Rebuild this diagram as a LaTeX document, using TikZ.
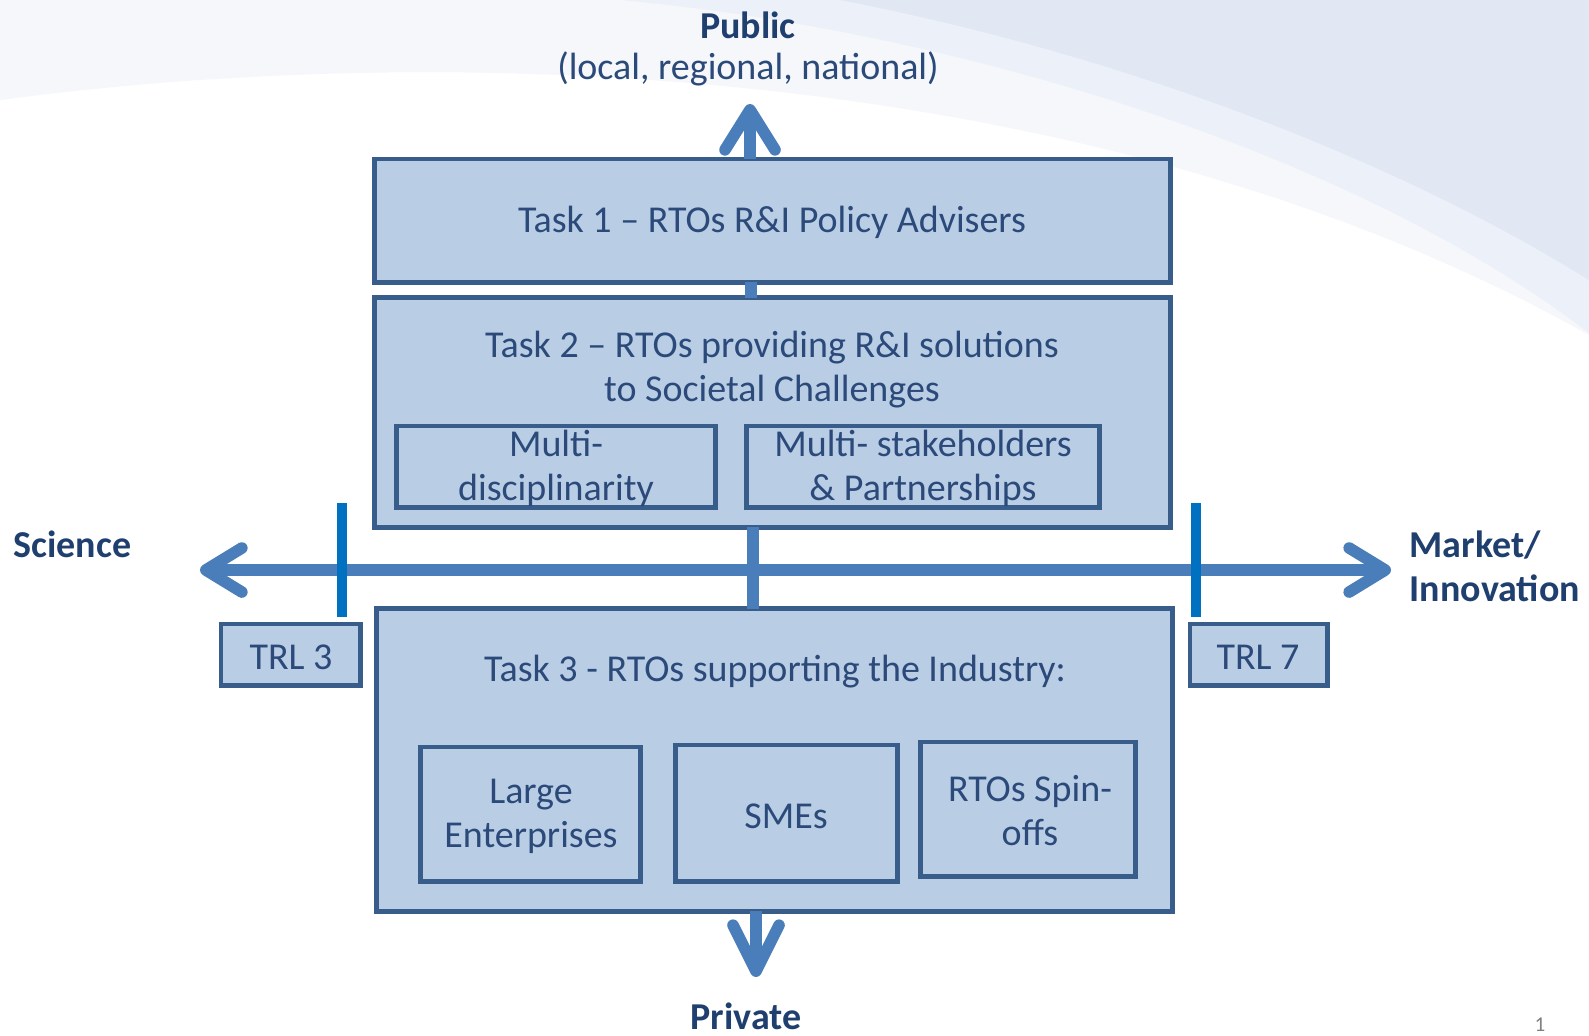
\documentclass[tikz,border=0pt]{standalone}
\usepackage{fontspec}
\setmainfont{Carlito}
\usetikzlibrary{arrows.meta}
\definecolor{boxfill}{HTML}{B9CDE5}
\definecolor{boxline}{HTML}{385D8A}
\definecolor{txt}{HTML}{2B4A7A}
\definecolor{head}{HTML}{1F3F6E}
\definecolor{arrowc}{HTML}{4A7EBB}
\definecolor{tickc}{HTML}{0070C0}
\definecolor{bandA}{HTML}{F5F7FB}
\definecolor{bandM}{HTML}{ECF0F8}
\definecolor{bandB}{HTML}{E1E7F3}
\tikzset{hbarb/.tip={Straight Barb[length=0.36cm, width=0.44cm, round]}}
\begin{document}
\begin{tikzpicture}[x=0.01cm,y=-0.01cm,
  box/.style={draw=boxline, fill=boxfill, line width=1.4pt, inner sep=0pt, outer sep=0pt},
  lbl/.style={text=txt, font=\fontsize{10.8}{12.5}\selectfont, align=center, inner sep=0pt},
  hd/.style={text=head, font=\fontsize{10.8}{12.5}\selectfont\bfseries, align=center, inner sep=0pt},
  link/.style={draw=arrowc, line width=3.3pt},
  tickline/.style={draw=tickc, line width=2.8pt}]
\path[use as bounding box, fill=white] (0,0) rectangle (1589,1035);
% background bands
\fill[bandA] (0,0) -- (0,100) .. controls (450,40) and (1100,60) .. (1589,335) -- (1589,0) -- cycle;
\fill[bandM] (620,0) .. controls (950,30) and (1350,150) .. (1589,333) -- (1589,0) -- cycle;
\fill[bandB] (840,0) .. controls (1100,50) and (1380,150) .. (1589,280) -- (1589,0) -- cycle;

% boxes
\node[box, minimum width=7.95cm, minimum height=1.23cm] (t1) at (772.5,220.5) {};
\node[box, minimum width=7.95cm, minimum height=2.29cm] (t2) at (772.5,412.5) {};
\node[box, minimum width=3.18cm, minimum height=0.81cm] (md) at (556,466.5) {};
\node[box, minimum width=3.52cm, minimum height=0.81cm] (ms) at (923,466.5) {};
\node[box, minimum width=7.95cm, minimum height=3.02cm] (t3) at (774.5,760) {};
\node[box, minimum width=2.19cm, minimum height=1.34cm] (le) at (530.5,814) {};
\node[box, minimum width=2.21cm, minimum height=1.36cm] (sme) at (786.5,813) {};
\node[box, minimum width=2.14cm, minimum height=1.34cm] (spin) at (1028,809) {};
\node[box, minimum width=1.39cm, minimum height=0.61cm] (trl3) at (290.5,654.5) {};
\node[box, minimum width=1.37cm, minimum height=0.61cm] (trl7) at (1258.5,654.5) {};

% coordinates
\coordinate (pubtip) at (750,104);
\coordinate (v12) at (751,290);
\coordinate (v23) at (753,565);
\coordinate (privtip) at (756,977);
\coordinate (scitip) at (200,570);
\coordinate (mkttip) at (1391,570);
\coordinate (tk3a) at (342,503);
\coordinate (tk3b) at (342,617);
\coordinate (tk7a) at (1196,503);
\coordinate (tk7b) at (1196,617);

% connectors
\draw[link, -{Straight Barb[length=0.4cm, width=0.5cm, round]}] (pubtip |- t1.north) -- (pubtip);
\draw[link] (v12 |- t1.south) -- (v12 |- t2.north);
\draw[link] (v23 |- t2.south) -- (v23 |- t3.north);
\draw[link, -{Straight Barb[length=0.46cm, width=0.46cm, round]}] (privtip |- t3.south) -- (privtip);
\draw[link, hbarb-hbarb] (scitip) -- (mkttip);
\draw[tickline] (tk3a) -- (tk3b);
\draw[tickline] (tk7a) -- (tk7b);

% texts
\node[lbl] (t1txt) at (772,222) {Task 1 -- RTOs R\&I Policy Advisers};
\node[lbl] (t2txt) at (772,369.5) {Task 2 -- RTOs providing R\&I solutions\\to Societal Challenges};
\node[lbl] (mdtxt) at (556,468.5) {Multi-\\disciplinarity};
\node[lbl] (mstxt) at (923,468.5) {Multi- stakeholders\\\& Partnerships};
\node[lbl] (t3txt) at (775,672) {Task 3 - RTOs supporting the Industry:};
\node[lbl] (letxt) at (531,816.5) {Large\\Enterprises};
\node[lbl] (smetxt) at (786,816) {SMEs};
\node[lbl] (spintxt) at (1030,811) {RTOs Spin-\\offs};
\node[lbl] (trl3txt) at (291,657) {TRL 3};
\node[lbl] (trl7txt) at (1258,657) {TRL 7};

\node[hd] (pub) at (748,25) {Public};
\node[lbl] (pubsub) at (748,69) {(local, regional, national)};
\node[hd, anchor=west] (sci) at (13,544) {Science};
\node[hd, anchor=west, align=left] (mkt) at (1409,566) {Market/\\Innovation};
\node[hd] (priv) at (746,1016) {Private};
\node[text=gray, font=\fontsize{6}{7}\selectfont, inner sep=0pt] (pg) at (1540,1025) {1};
\end{tikzpicture}
\end{document}
